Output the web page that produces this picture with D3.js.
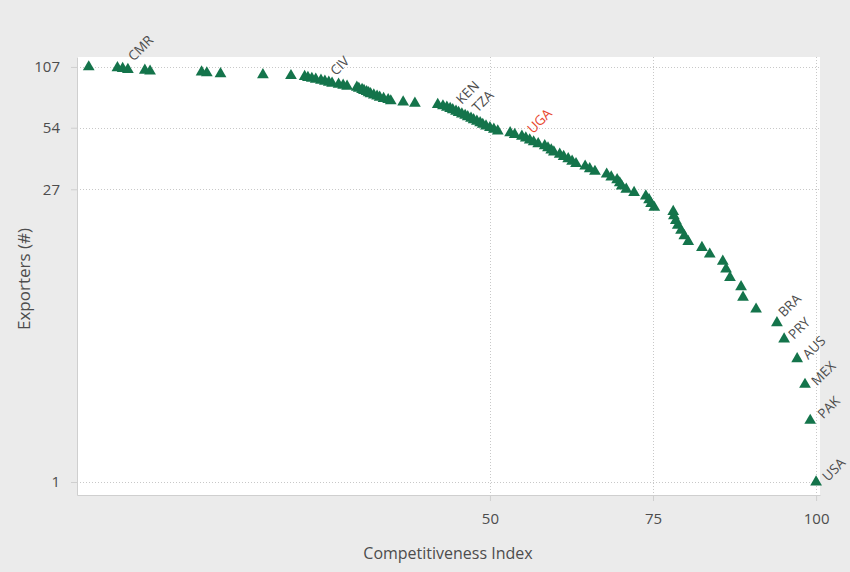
<!DOCTYPE html>
<html>
<head>
<meta charset="utf-8">
<script src="https://cdn.jsdelivr.net/npm/d3@7"></script>
<style>
  html, body { margin: 0; padding: 0; background: #ebebeb; }
  svg { display: block; font-family: "Open Sans", "Noto Sans", sans-serif; }
</style>
</head>
<body>
<svg id="chart" width="850" height="572"></svg>
<script>
// Competitiveness index of each exporting country, ordered by rank (1 = most competitive)
const competitiveness = [
  100.0, 99.1, 98.3, 97.1, 95.1, 94.0, 90.8, 88.8, 88.5, 86.8,
  86.2, 85.7, 83.7, 82.5, 80.4, 79.8, 79.3, 78.8, 78.5, 78.2,
  78.1, 75.2, 74.7, 74.4, 73.9, 72.1, 70.9, 70.2, 69.9, 69.5,
  68.6, 67.9, 66.1, 65.3, 64.6, 63.2, 62.6, 62.0, 61.3, 60.7,
  59.8, 59.4, 58.9, 58.4, 57.4, 56.7, 56.1, 55.5, 54.9, 53.8,
  53.1, 51.2, 50.6, 50.0, 49.4, 48.9, 48.5, 48.0, 47.5, 47.1,
  46.6, 46.2, 45.7, 45.2, 44.8, 44.3, 43.9, 43.4, 42.8, 42.0,
  38.5, 36.7, 34.8, 34.4, 33.7, 33.1, 32.7, 32.2, 31.7, 31.4,
  31.1, 30.7, 30.4, 29.9, 29.6, 28.1, 27.5, 26.8, 25.8, 25.3,
  24.7, 24.1, 23.3, 22.7, 22.1, 21.6, 19.5, 15.2, 8.7, 6.6,
  5.8, -2.1, -2.9, -5.5, -6.3, -7.1, -11.5
];

// Number of exporters at or above each country's competitiveness
const exporters = [
  1, 2, 3, 4, 5, 6, 7, 8, 9, 10,
  11, 12, 13, 14, 15, 16, 17, 18, 19, 20,
  21, 22, 23, 24, 25, 26, 27, 28, 29, 30,
  31, 32, 33, 34, 35, 36, 37, 38, 39, 40,
  41, 42, 43, 44, 45, 46, 47, 48, 49, 50,
  51, 52, 53, 54, 55, 56, 57, 58, 59, 60,
  61, 62, 63, 64, 65, 66, 67, 68, 69, 70,
  71, 72, 73, 74, 75, 76, 77, 78, 79, 80,
  81, 82, 83, 84, 85, 86, 87, 88, 89, 90,
  91, 92, 93, 94, 95, 96, 97, 98, 99, 100,
  101, 102, 103, 104, 105, 106, 107
];

// Labelled countries and the rank of each
const labelCodes = ["USA", "PAK", "MEX", "AUS", "PRY", "BRA", "UGA", "TZA", "KEN", "CIV", "CMR"];
const labelRanks = [1, 2, 3, 4, 5, 6, 49, 61, 66, 91, 105];
const highlight = "UGA";

// Axis ticks
const xTicks = [50, 75, 100];
const yTicks = [1, 27, 54, 107];

// Label placement offsets (px) from each marker
const labelNudge = {
  USA: [12, 0], PAK: [13, -1], MEX: [12, 2], AUS: [11, 1], PRY: [10, 1],
  BRA: [7, -5], UGA: [11, -2], TZA: [10, -4], KEN: [9, -5], CIV: [11, -5], CMR: [11, -7]
};

const svg = d3.select("#chart");
const panel = { left: 77, right: 820, top: 57, bottom: 495 };

const x = d3.scaleLinear().domain([-13.3, 100.6]).range([panel.left, panel.right]);
const y = d3.scaleLog().domain([0.864, 119.7]).range([panel.bottom, panel.top]);

const points = competitiveness.map((v, i) => ({ x: v, y: exporters[i] }));

// Plot panel
svg.append("rect")
  .attr("x", panel.left).attr("y", panel.top)
  .attr("width", panel.right - panel.left).attr("height", panel.bottom - panel.top)
  .attr("fill", "#ffffff");

// Dotted grid
const grid = svg.append("g").attr("stroke", "#c8c8c8").attr("stroke-width", 1).attr("stroke-dasharray", "1,2");
grid.selectAll("line.h").data(yTicks).join("line")
  .attr("class", "h")
  .attr("x1", panel.left).attr("x2", panel.right)
  .attr("y1", d => Math.round(y(d)) + 0.5).attr("y2", d => Math.round(y(d)) + 0.5);
grid.selectAll("line.v").data(xTicks).join("line")
  .attr("class", "v")
  .attr("y1", panel.top).attr("y2", panel.bottom)
  .attr("x1", d => Math.round(x(d)) + 0.5).attr("x2", d => Math.round(x(d)) + 0.5);

// Axes
const xAxis = d3.axisBottom(x).tickValues(xTicks).tickSize(6).tickSizeOuter(0).tickPadding(12).tickFormat(d3.format("d"));
const yAxis = d3.axisLeft(y).tickValues(yTicks).tickSize(6).tickSizeOuter(0).tickPadding(11).tickFormat(d3.format("d"));

const gx = svg.append("g").attr("transform", `translate(0,${panel.bottom})`).call(xAxis);
const gy = svg.append("g").attr("transform", `translate(${panel.left},0)`).call(yAxis);

[gx, gy].forEach(g => {
  g.select(".domain").attr("stroke", "#cfcfcf");
  g.selectAll(".tick line").attr("stroke", "#cfcfcf");
  g.selectAll(".tick text").attr("fill", "#4d4d4d").attr("font-size", 15)
    .attr("font-family", "'Open Sans', 'Noto Sans', sans-serif");
});

// Axis titles
svg.append("text")
  .attr("x", 448).attr("y", 559)
  .attr("text-anchor", "middle")
  .attr("fill", "#4d4d4d").attr("font-size", 16)
  .text("Competitiveness Index");

svg.append("text")
  .attr("transform", `translate(30,${(panel.top + panel.bottom) / 2 + 3}) rotate(-90)`)
  .attr("text-anchor", "middle")
  .attr("fill", "#4d4d4d").attr("font-size", 17)
  .text("Exporters (#)");

// Markers
const tri = d3.symbol().type(d3.symbolTriangle).size(60);
svg.append("g").selectAll("path").data(points).join("path")
  .attr("d", tri)
  .attr("transform", d => `translate(${x(d.x)},${y(d.y)})`)
  .attr("fill", "#14744b");

// Country labels
const labels = labelCodes.map((c, i) => {
  const p = points[exporters.indexOf(labelRanks[i])];
  return { code: c, x: p.x, y: p.y };
});
svg.append("g").selectAll("text").data(labels).join("text")
  .attr("transform", d => {
    const [dx, dy] = labelNudge[d.code];
    return `translate(${x(d.x) + dx},${y(d.y) + dy}) rotate(-45)`;
  })
  .attr("fill", d => d.code === highlight ? "#e8472f" : "#4d4d4d")
  .attr("font-size", 13.5)
  .text(d => d.code);
</script>
</body>
</html>
